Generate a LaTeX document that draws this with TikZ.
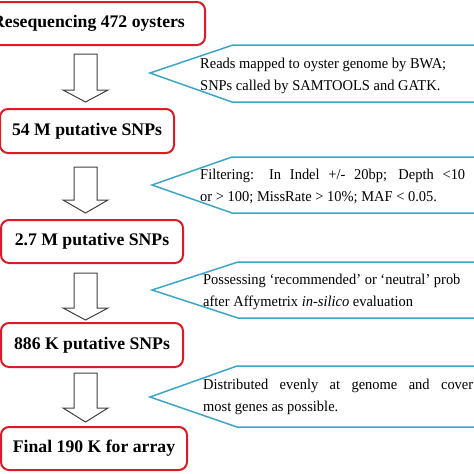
\documentclass[tikz,border=0pt]{standalone}
\usepackage{fontspec}
\setmainfont{Liberation Serif}
\newfontfamily\notefont[FakeStretch=0.965]{Liberation Serif}
\definecolor{boxred}{RGB}{218,28,38}
\definecolor{notecyan}{RGB}{60,165,200}
\begin{document}
\begin{tikzpicture}[x=1pt,y=-1pt,
  stepbox/.style={draw=boxred, line width=2pt, rounded corners=8pt, inner sep=0pt,
    font=\bfseries\fontsize{17.7}{21}\selectfont},
  blockarrow/.style={draw=black!75, line width=1pt, fill=white},
  callout/.style={draw=notecyan, line width=1.5pt, fill=white},
  notetext/.style={inner sep=0pt, anchor=west, align=justify,
    font=\notefont\fontsize{15}{22.4}\selectfont}
]
\useasboundingbox (0,0) rectangle (474,474);
\clip (0,0) rectangle (474,474);
% boxes
\node[stepbox, minimum width=233pt, minimum height=43pt] (b1) at (88.5,23.5) {Resequencing 472 oysters};
\node[stepbox, minimum width=174pt, minimum height=44pt] (b2) at (87,131) {54 M putative SNPs};
\node[stepbox, minimum width=182pt, minimum height=43pt] (b3) at (92,241.5) {2.7 M putative SNPs};
\node[stepbox, minimum width=182pt, minimum height=44pt] (b4) at (92,345) {886 K putative SNPs};
\node[stepbox, minimum width=186pt, minimum height=43pt] (b5) at (94,448.5) {Final 190 K for array};
% block arrows
\foreach \t/\h/\p in {54/90/102, 167/200/213, 273/308/320, 373/408/422}{
  \draw[blockarrow] (74,\t) -- (97,\t) -- (97,\h) -- (108,\h) -- (85.5,\p) -- (63,\h) -- (74,\h) -- cycle;
}
% callouts
\draw[callout] (150,73) -- (233,45) -- (480,45) -- (480,102) -- (232,102) -- cycle;
\draw[callout] (152,185) -- (232,157) -- (480,157) -- (480,213) -- (232,213) -- cycle;
\draw[callout] (152,290) -- (238,262) -- (480,262) -- (480,318) -- (238,318) -- cycle;
\draw[callout] (150,397) -- (237,366) -- (480,366) -- (480,427) -- (237,427) -- cycle;
\node[notetext, align=left] (n1) at (200,76) {Reads mapped to oyster genome by BWA;\\SNPs called by SAMTOOLS and GATK.};
\node[notetext, text width=265pt] (n2) at (200,186.5) {Filtering: In Indel +/- 20bp; Depth <10\linebreak or > 100; MissRate > 10\%; MAF < 0.05.};
\node[notetext, align=left] (n3) at (203,292) {Possessing ‘recommended’ or ‘neutral’ prob\\after Affymetrix \textit{in-silico} evaluation};
\node[notetext, text width=270pt] (n4) at (203,397) {Distributed evenly at genome and cover\linebreak most genes as possible.};
\end{tikzpicture}
\end{document}
